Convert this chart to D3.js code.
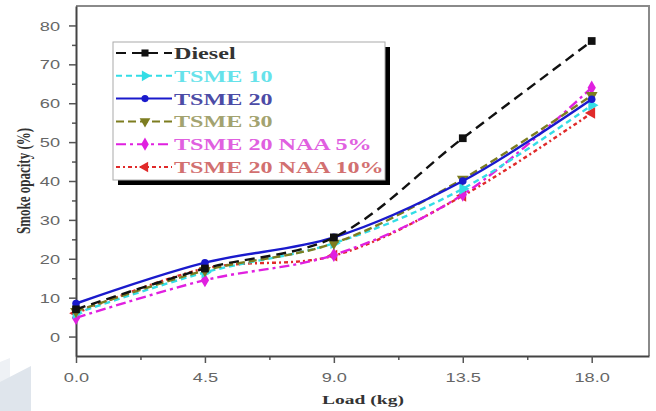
<!DOCTYPE html>
<html lang="en">
<head>
<meta charset="UTF-8">
<title>Smoke opacity vs load</title>
<script src="https://cdn.jsdelivr.net/npm/d3@7"></script>
<style>
  body { margin: 0; background: #fff; }
  svg { display: block; }
</style>
</head>
<body>
<script>
    // values
    const loads = [0, 4.5, 9, 13.5, 18]
    const seriesNames = ['Diesel', 'TSME 10', 'TSME 20', 'TSME 30', 'TSME 20 NAA 5%', 'TSME 20 NAA 10%']
    const diesel = [7, 17.5, 25.5, 51, 76]
    const tsme10 = [6, 16.5, 24, 38, 59.5]
    const tsme20 = [8.5, 19, 25.5, 40, 61]
    const tsme30 = [6.5, 17, 24, 40.5, 62]
    const naa5 = [4.8, 14.5, 21, 36.5, 64]
    const naa10 = [6, 17.5, 20.8, 36.2, 57.5]
    const xTickVals = [0, 4.5, 9, 13.5, 18]
    const yTickVals = [0, 10, 20, 30, 40, 50, 60, 70, 80]

    const seriesValues = [diesel, tsme10, tsme20, tsme30, naa5, naa10]

    const styles = [
        { line: '#111', text: '#333', dash: '10,6', symbol: d3.symbolSquare, rot: 0 },
        { line: '#33dde6', text: '#66e2ea', dash: '6,4', symbol: d3.symbolTriangle, rot: 90 },
        { line: '#1a1acc', text: '#4c4ca6', dash: null, symbol: d3.symbolCircle, rot: 0 },
        { line: '#7d7d20', text: '#a3a370', dash: '8,4', symbol: d3.symbolTriangle, rot: 180 },
        { line: '#e020e0', text: '#e060e0', dash: '10,4,3,4', symbol: d3.symbolDiamond, rot: 0 },
        { line: '#e02a2a', text: '#d27070', dash: '4,3,2,3', symbol: d3.symbolTriangle, rot: -90 }
    ]

    const width = 656
    const height = 411
    const margin = { top: 6, right: 7, bottom: 55, left: 76 }
    const sx = 1.4 // the picture is stretched sideways

    const svg = d3.select('body').append('svg')
        .attr('width', width)
        .attr('height', height)

    // light watermark shape in the corner
    svg.append('polygon')
        .attr('points', '0,362 10,358 10,411 0,411')
        .attr('fill', '#eef1f5')
    svg.append('polygon')
        .attr('points', '0,382 31,366 31,411 0,411')
        .attr('fill', '#dfe5ec')

    const xScale = d3.scaleLinear()
        .domain([0, 20])
        .range([margin.left, width - margin.right])

    const yScale = d3.scaleLinear()
        .domain([-5, 85])
        .range([height - margin.bottom, margin.top])

    // top and right frame
    svg.append('path')
        .attr('d', `M${margin.left},${margin.top}H${width - margin.right}V${height - margin.bottom}`)
        .attr('fill', 'none')
        .attr('stroke', '#8a8a8a')
        .attr('stroke-width', 2)

    // minor ticks
    svg.append('g')
        .attr('transform', `translate(0, ${height - margin.bottom})`)
        .call(d3.axisBottom(xScale).tickValues([2.25, 6.75, 11.25, 15.75]).tickSize(4).tickFormat(''))
        .call(g => g.select('.domain').remove())
        .call(g => g.selectAll('line').attr('stroke', '#555').attr('stroke-width', 1.5))

    svg.append('g')
        .attr('transform', `translate(${margin.left}, 0)`)
        .call(d3.axisLeft(yScale).tickValues([5, 15, 25, 35, 45, 55, 65, 75]).tickSize(4).tickFormat(''))
        .call(g => g.select('.domain').remove())
        .call(g => g.selectAll('line').attr('stroke', '#555').attr('stroke-width', 1.5))

    const xAxis = svg.append('g')
        .attr('transform', `translate(0, ${height - margin.bottom})`)
        .call(d3.axisBottom(xScale).tickValues(xTickVals).tickSize(7).tickSizeOuter(0).tickFormat(d3.format('.1f')))

    const yAxis = svg.append('g')
        .attr('transform', `translate(${margin.left}, 0)`)
        .call(d3.axisLeft(yScale).tickValues(yTickVals).tickSize(7).tickSizeOuter(0))

    ;[xAxis, yAxis].forEach(ax => {
        ax.select('.domain').attr('stroke', '#444').attr('stroke-width', 2)
        ax.selectAll('.tick line').attr('stroke', '#555').attr('stroke-width', 1.5)
        ax.selectAll('.tick text')
            .attr('fill', '#666')
            .attr('font-family', 'Liberation Sans, Arial, sans-serif')
            .attr('font-size', 13)
    })

    // stretch the tick labels sideways round their anchor
    xAxis.selectAll('.tick text')
        .attr('y', 0)
        .attr('dy', 0)
        .attr('transform', `translate(0, 26) scale(${sx}, 1)`)
    yAxis.selectAll('.tick text')
        .attr('x', 0)
        .attr('dy', '0.35em')
        .attr('transform', `translate(-16, 0) scale(${sx}, 1)`)

    // axis titles
    svg.append('text')
        .attr('transform', `translate(363, 404) scale(1.5, 1)`)
        .attr('text-anchor', 'middle')
        .attr('font-family', 'Liberation Serif, Times New Roman, serif')
        .attr('font-weight', 'bold')
        .attr('font-size', 13)
        .attr('fill', '#333')
        .text('Load (kg)')

    svg.append('text')
        .attr('transform', `translate(30, 181) scale(1.45, 1) rotate(-90)`)
        .attr('text-anchor', 'middle')
        .attr('font-family', 'Liberation Serif, Times New Roman, serif')
        .attr('font-weight', 'bold')
        .attr('font-size', 13)
        .attr('fill', '#333')
        .text('Smoke opacity (%)')

    // lines
    const line = d3.line()
        .x((d, i) => xScale(loads[i]))
        .y(d => yScale(d))
        .curve(d3.curveCatmullRom)

    const plot = svg.append('g')

    // draw in reverse so diesel and TSME 20 sit on top like the original
    const order = [5, 4, 1, 3, 2, 0]
    order.forEach(k => {
        const st = styles[k]
        plot.append('path')
            .datum(seriesValues[k])
            .attr('d', line)
            .attr('fill', 'none')
            .attr('stroke', st.line)
            .attr('stroke-width', 2.4)
            .attr('stroke-dasharray', st.dash)

        plot.selectAll(null)
            .data(seriesValues[k])
            .enter()
            .append('path')
            .attr('d', d3.symbol().type(st.symbol).size(st.symbol === d3.symbolCircle ? 45 : 60))
            .attr('transform', (d, i) => `translate(${xScale(loads[i])}, ${yScale(d)}) rotate(${st.rot})`)
            .attr('fill', st.line)
    })

    // legend
    const legendX = 113
    const legendY = 42
    const legendW = 272
    const legendH = 138
    const rowY = d3.scalePoint().domain(seriesNames).range([legendY + 11, legendY + 125])

    svg.append('rect')
        .attr('x', legendX + 5)
        .attr('y', legendY + 5)
        .attr('width', legendW)
        .attr('height', legendH)
        .attr('fill', '#000')
    svg.append('rect')
        .attr('x', legendX)
        .attr('y', legendY)
        .attr('width', legendW)
        .attr('height', legendH)
        .attr('fill', '#fff')
        .attr('stroke', '#aaa')
        .attr('stroke-width', 1)

    seriesNames.forEach((name, k) => {
        const st = styles[k]
        const y = rowY(name)
        svg.append('line')
            .attr('x1', legendX + 3)
            .attr('x2', legendX + 59)
            .attr('y1', y)
            .attr('y2', y)
            .attr('stroke', st.line)
            .attr('stroke-width', 2)
            .attr('stroke-dasharray', st.dash)
        svg.append('path')
            .attr('d', d3.symbol().type(st.symbol).size(st.symbol === d3.symbolCircle ? 40 : 50))
            .attr('transform', `translate(${legendX + 32}, ${y}) rotate(${st.rot})`)
            .attr('fill', st.line)
        svg.append('text')
            .attr('transform', `translate(${legendX + 61}, ${y + 6}) scale(1.42, 1)`)
            .attr('font-family', 'Liberation Serif, Times New Roman, serif')
            .attr('font-weight', 'bold')
            .attr('font-size', 17)
            .attr('fill', st.text)
            .text(name)
    })
</script>
</body>
</html>
